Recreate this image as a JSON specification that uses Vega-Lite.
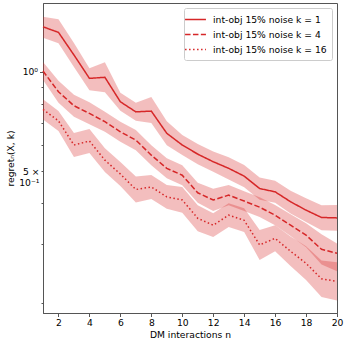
{
  "$schema": "https://vega.github.io/schema/vega-lite/v6.json",
  "width": 294,
  "height": 310,
  "autosize": "none",
  "padding": {"left": 43, "top": 3, "right": 9, "bottom": 33},
  "config": {
    "font": "DejaVu Sans",
    "view": {"stroke": "#555", "strokeWidth": 1},
    "axis": {"grid": false, "domainColor": "#555", "tickColor": "#555", "labelColor": "#000", "titleColor": "#000", "labelFont": "DejaVu Sans", "titleFont": "DejaVu Sans", "labelFontSize": 9.2, "titleFontSize": 9.2, "titleFontWeight": "normal", "labelOverlap": false, "labelFlush": false}
  },
  "data": {"values": [
    {"n":1,"s":"int-obj 15% noise k = 1","m":1.368,"lo":1.267,"hi":1.467},
    {"n":2,"s":"int-obj 15% noise k = 1","m":1.316,"lo":1.219,"hi":1.441},
    {"n":3,"s":"int-obj 15% noise k = 1","m":1.124,"lo":1.034,"hi":1.222},
    {"n":4,"s":"int-obj 15% noise k = 1","m":0.955,"lo":0.879,"hi":1.024},
    {"n":5,"s":"int-obj 15% noise k = 1","m":0.962,"lo":0.867,"hi":1.068},
    {"n":6,"s":"int-obj 15% noise k = 1","m":0.811,"lo":0.762,"hi":0.864},
    {"n":7,"s":"int-obj 15% noise k = 1","m":0.756,"lo":0.710,"hi":0.805},
    {"n":8,"s":"int-obj 15% noise k = 1","m":0.760,"lo":0.699,"hi":0.838},
    {"n":9,"s":"int-obj 15% noise k = 1","m":0.651,"lo":0.599,"hi":0.708},
    {"n":10,"s":"int-obj 15% noise k = 1","m":0.600,"lo":0.560,"hi":0.643},
    {"n":11,"s":"int-obj 15% noise k = 1","m":0.563,"lo":0.525,"hi":0.604},
    {"n":12,"s":"int-obj 15% noise k = 1","m":0.534,"lo":0.498,"hi":0.573},
    {"n":13,"s":"int-obj 15% noise k = 1","m":0.510,"lo":0.472,"hi":0.551},
    {"n":14,"s":"int-obj 15% noise k = 1","m":0.483,"lo":0.447,"hi":0.522},
    {"n":15,"s":"int-obj 15% noise k = 1","m":0.443,"lo":0.410,"hi":0.478},
    {"n":16,"s":"int-obj 15% noise k = 1","m":0.433,"lo":0.401,"hi":0.468},
    {"n":17,"s":"int-obj 15% noise k = 1","m":0.404,"lo":0.372,"hi":0.436},
    {"n":18,"s":"int-obj 15% noise k = 1","m":0.381,"lo":0.351,"hi":0.414},
    {"n":19,"s":"int-obj 15% noise k = 1","m":0.362,"lo":0.331,"hi":0.394},
    {"n":20,"s":"int-obj 15% noise k = 1","m":0.361,"lo":0.330,"hi":0.395},
    {"n":1,"s":"int-obj 15% noise k = 4","m":1.005,"lo":0.944,"hi":1.070},
    {"n":2,"s":"int-obj 15% noise k = 4","m":0.870,"lo":0.806,"hi":0.940},
    {"n":3,"s":"int-obj 15% noise k = 4","m":0.789,"lo":0.731,"hi":0.852},
    {"n":4,"s":"int-obj 15% noise k = 4","m":0.748,"lo":0.693,"hi":0.808},
    {"n":5,"s":"int-obj 15% noise k = 4","m":0.706,"lo":0.658,"hi":0.757},
    {"n":6,"s":"int-obj 15% noise k = 4","m":0.658,"lo":0.614,"hi":0.706},
    {"n":7,"s":"int-obj 15% noise k = 4","m":0.621,"lo":0.579,"hi":0.666},
    {"n":8,"s":"int-obj 15% noise k = 4","m":0.559,"lo":0.521,"hi":0.599},
    {"n":9,"s":"int-obj 15% noise k = 4","m":0.510,"lo":0.476,"hi":0.547},
    {"n":10,"s":"int-obj 15% noise k = 4","m":0.486,"lo":0.453,"hi":0.521},
    {"n":11,"s":"int-obj 15% noise k = 4","m":0.430,"lo":0.401,"hi":0.461},
    {"n":12,"s":"int-obj 15% noise k = 4","m":0.409,"lo":0.379,"hi":0.442},
    {"n":13,"s":"int-obj 15% noise k = 4","m":0.423,"lo":0.394,"hi":0.454},
    {"n":14,"s":"int-obj 15% noise k = 4","m":0.406,"lo":0.379,"hi":0.435},
    {"n":15,"s":"int-obj 15% noise k = 4","m":0.389,"lo":0.363,"hi":0.417},
    {"n":16,"s":"int-obj 15% noise k = 4","m":0.368,"lo":0.343,"hi":0.395},
    {"n":17,"s":"int-obj 15% noise k = 4","m":0.343,"lo":0.318,"hi":0.370},
    {"n":18,"s":"int-obj 15% noise k = 4","m":0.320,"lo":0.294,"hi":0.348},
    {"n":19,"s":"int-obj 15% noise k = 4","m":0.290,"lo":0.261,"hi":0.322},
    {"n":20,"s":"int-obj 15% noise k = 4","m":0.282,"lo":0.249,"hi":0.302},
    {"n":1,"s":"int-obj 15% noise k = 16","m":0.769,"lo":0.717,"hi":0.825},
    {"n":2,"s":"int-obj 15% noise k = 16","m":0.710,"lo":0.662,"hi":0.761},
    {"n":3,"s":"int-obj 15% noise k = 16","m":0.600,"lo":0.552,"hi":0.652},
    {"n":4,"s":"int-obj 15% noise k = 16","m":0.617,"lo":0.568,"hi":0.671},
    {"n":5,"s":"int-obj 15% noise k = 16","m":0.540,"lo":0.497,"hi":0.587},
    {"n":6,"s":"int-obj 15% noise k = 16","m":0.490,"lo":0.451,"hi":0.533},
    {"n":7,"s":"int-obj 15% noise k = 16","m":0.440,"lo":0.402,"hi":0.482},
    {"n":8,"s":"int-obj 15% noise k = 16","m":0.448,"lo":0.412,"hi":0.487},
    {"n":9,"s":"int-obj 15% noise k = 16","m":0.418,"lo":0.385,"hi":0.454},
    {"n":10,"s":"int-obj 15% noise k = 16","m":0.409,"lo":0.374,"hi":0.448},
    {"n":11,"s":"int-obj 15% noise k = 16","m":0.360,"lo":0.329,"hi":0.394},
    {"n":12,"s":"int-obj 15% noise k = 16","m":0.343,"lo":0.316,"hi":0.373},
    {"n":13,"s":"int-obj 15% noise k = 16","m":0.368,"lo":0.339,"hi":0.400},
    {"n":14,"s":"int-obj 15% noise k = 16","m":0.355,"lo":0.327,"hi":0.386},
    {"n":15,"s":"int-obj 15% noise k = 16","m":0.299,"lo":0.269,"hi":0.332},
    {"n":16,"s":"int-obj 15% noise k = 16","m":0.313,"lo":0.286,"hi":0.343},
    {"n":17,"s":"int-obj 15% noise k = 16","m":0.286,"lo":0.258,"hi":0.317},
    {"n":18,"s":"int-obj 15% noise k = 16","m":0.263,"lo":0.234,"hi":0.296},
    {"n":19,"s":"int-obj 15% noise k = 16","m":0.236,"lo":0.208,"hi":0.268},
    {"n":20,"s":"int-obj 15% noise k = 16","m":0.232,"lo":0.203,"hi":0.265}
  ]},
  "layer": [
    {
      "mark": {"type": "area", "color": "#d62728", "opacity": 0.3},
      "encoding": {
        "x": {
          "field": "n", "type": "quantitative",
          "scale": {"domain": [1, 20], "nice": false, "zero": false},
          "axis": {"values": [2,4,6,8,10,12,14,16,18,20], "tickSize": 3.5, "labelPadding": 2, "labelOverlap": false, "labelFlush": false, "labelBound": false, "title": "DM interactions n", "titlePadding": 3}
        },
        "y": {
          "field": "lo", "type": "quantitative",
          "scale": {"type": "log", "domain": [0.186, 1.615], "nice": false, "zero": false},
          "axis": {
            "values": [0.2,0.3,0.4,0.5,0.6,0.7,0.8,0.9,1],
            "labelOverlap": false, "labelFlush": false,
            "tickSize": {"condition": {"test": "datum.value == 1", "value": 3.5}, "value": 2},
            "labelExpr": "datum.value == 1 ? '10⁰' : (datum.value == 0.5 ? ['5 ×', '10⁻¹'] : '')",
            "labelLineHeight": 11,
            "labelPadding": 2,
            "title": "regretₙ(X, k)",
            "titlePadding": 3
          }
        },
        "y2": {"field": "hi"},
        "detail": {"field": "s"}
      }
    },
    {
      "mark": {"type": "line", "color": "#d62728", "strokeWidth": 1.5},
      "encoding": {
        "x": {
          "field": "n", "type": "quantitative",
          "scale": {"domain": [1, 20], "nice": false, "zero": false},
          "axis": {"values": [2,4,6,8,10,12,14,16,18,20], "tickSize": 3.5, "labelPadding": 2, "labelOverlap": false, "labelFlush": false, "labelBound": false, "title": "DM interactions n", "titlePadding": 3}
        },
        "y": {
          "field": "m", "type": "quantitative",
          "scale": {"type": "log", "domain": [0.186, 1.615], "nice": false, "zero": false},
          "axis": {
            "values": [0.2,0.3,0.4,0.5,0.6,0.7,0.8,0.9,1],
            "labelOverlap": false, "labelFlush": false,
            "tickSize": {"condition": {"test": "datum.value == 1", "value": 3.5}, "value": 2},
            "labelExpr": "datum.value == 1 ? '10⁰' : (datum.value == 0.5 ? ['5 ×', '10⁻¹'] : '')",
            "labelLineHeight": 11,
            "labelPadding": 2,
            "title": "regretₙ(X, k)",
            "titlePadding": 3
          }
        },
        "strokeDash": {
          "field": "s", "type": "nominal",
          "scale": {"domain": ["int-obj 15% noise k = 1", "int-obj 15% noise k = 4", "int-obj 15% noise k = 16"], "range": [[1,0],[5.5,2.4],[1.5,2.5]]},
          "legend": {
            "title": null, "orient": "top-right", "offset": 5,
            "symbolType": "M-1.9,0H1.9", "symbolSize": 121, "symbolStrokeColor": "#d62728", "symbolFillColor": "transparent", "symbolStrokeWidth": 1.5,
            "labelFont": "DejaVu Sans", "labelFontSize": 9.2, "labelColor": "#000", "labelOffset": 11,
            "fillColor": "rgba(255,255,255,0.8)", "strokeColor": "#ccc", "cornerRadius": 2, "padding": 5, "rowPadding": 3
          }
        }
      }
    }
  ]
}
